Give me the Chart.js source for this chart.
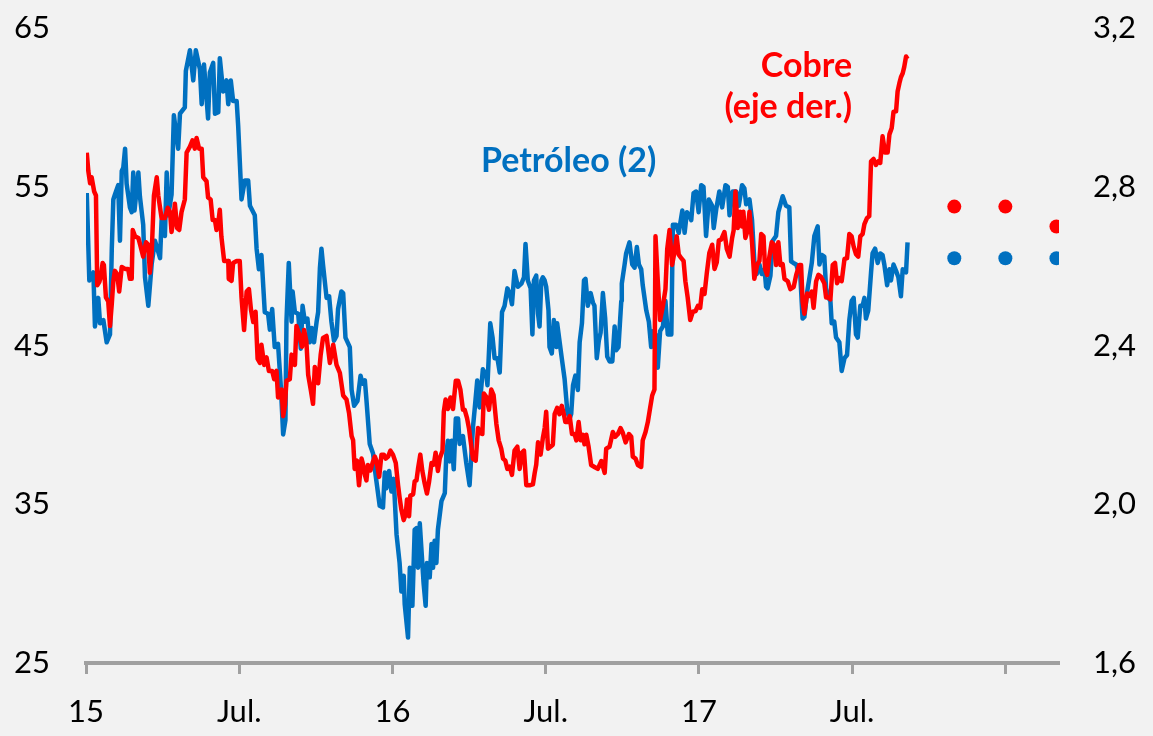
<!DOCTYPE html>
<html>
<head>
<meta charset="utf-8">
<script src="https://cdn.jsdelivr.net/npm/chart.js@4.4.0/dist/chart.umd.min.js"></script>
<style>
  body { margin: 0; background: #f2f2f2; }
  canvas { display: block; }
</style>
</head>
<body>
<canvas id="chart" width="1153" height="736"></canvas>
<script>
// months counted from January 2015
const oilMonths = [
  0.03,0.13,0.29,0.35,0.48,0.55,0.68,0.81,0.94,1.01,
  1.07,1.13,1.26,1.33,1.40,1.46,1.53,1.59,1.72,1.79,
  1.85,1.90,2.05,2.11,2.24,2.31,2.44,2.57,2.70,2.90,
  2.96,3.09,3.16,3.22,3.35,3.44,3.61,3.68,3.87,3.91,
  4.07,4.20,4.30,4.46,4.53,4.62,4.78,4.85,4.98,5.05,
  5.18,5.24,5.37,5.50,5.57,5.67,5.76,5.90,5.96,6.09,
  6.22,6.35,6.42,6.61,6.68,6.77,6.87,7.00,7.13,7.20,
  7.29,7.39,7.52,7.63,7.72,7.81,7.85,7.94,8.05,8.09,
  8.18,8.31,8.41,8.48,8.57,8.67,8.76,8.84,8.93,9.03,
  9.09,9.16,9.22,9.28,9.42,9.52,9.61,9.71,9.81,9.87,
  10.00,10.07,10.16,10.33,10.40,10.50,10.63,10.75,10.83,10.92,
  10.98,11.11,11.24,11.31,11.50,11.63,11.70,11.76,11.87,11.96,
  12.05,12.16,12.28,12.35,12.44,12.48,12.61,12.68,12.78,12.87,
  12.94,13.00,13.07,13.22,13.30,13.35,13.46,13.53,13.59,13.65,
  13.72,13.78,13.92,14.05,14.11,14.17,14.24,14.32,14.40,14.48,
  14.57,14.63,14.76,14.89,15.02,15.15,15.22,15.32,15.41,15.54,
  15.68,15.72,15.83,15.92,16.00,16.11,16.20,16.29,16.39,16.50,
  16.59,16.68,16.78,16.91,17.05,17.15,17.21,17.30,17.41,17.48,
  17.54,17.63,17.70,17.76,17.83,17.89,17.96,18.02,18.11,18.15,
  18.24,18.32,18.42,18.45,18.54,18.63,18.74,18.85,18.94,19.00,
  19.07,19.16,19.26,19.33,19.42,19.50,19.56,19.65,19.76,19.85,
  19.91,20.00,20.08,20.15,20.24,20.33,20.41,20.50,20.61,20.70,
  20.76,20.85,20.96,20.98,21.09,21.15,21.28,21.39,21.48,21.57,
  21.65,21.74,21.80,21.94,22.04,22.13,22.20,22.30,22.39,22.48,
  22.59,22.69,22.78,22.92,22.98,23.11,23.21,23.35,23.44,23.53,
  23.63,23.70,23.79,23.89,23.99,24.09,24.18,24.28,24.39,24.52,
  24.58,24.68,24.80,24.91,25.04,25.13,25.20,25.32,25.46,25.56,
  25.69,25.78,25.85,25.98,26.08,26.17,26.26,26.37,26.46,26.57,
  26.63,26.69,26.80,26.89,27.02,27.11,27.28,27.41,27.54,27.61,
  27.70,27.81,27.87,27.97,28.06,28.13,28.24,28.33,28.42,28.52,
  28.65,28.72,28.81,28.91,28.98,29.07,29.15,29.20,29.30,29.37,
  29.50,29.59,29.70,29.80,29.89,29.98,30.06,30.15,30.22,30.32,
  30.41,30.48,30.54,30.63,30.74,30.80,30.90,31.00,31.10,31.19,
  31.26,31.37,31.46,31.52,31.62,31.72,31.81,31.91,31.98,32.11,
  32.17
];
const oilValues = [
  54.6,49.1,49.6,46.2,48.0,46.4,46.6,45.2,45.7,51.1,
  54.2,54.5,55.1,51.6,56.0,56.2,57.4,55.2,53.7,53.4,
  55.9,53.5,55.9,54.4,52.6,49.3,47.5,50.1,51.6,50.5,
  52.9,51.9,55.9,53.2,54.5,59.5,57.4,59.6,60.0,62.3,
  63.6,61.7,63.6,62.4,60.2,62.7,59.3,62.2,62.8,59.6,
  59.7,63.1,61.0,61.7,60.2,61.7,60.4,60.4,58.8,54.2,
  55.4,55.4,53.8,53.2,51.1,49.8,50.7,47.1,47.0,46.0,
  47.3,44.9,45.1,42.4,39.4,40.3,46.5,50.2,46.5,48.4,
  47.1,47.0,44.8,47.5,46.5,46.7,45.2,46.1,45.2,46.5,
  47.1,49.9,51.1,50.1,48.0,48.1,46.5,45.3,45.6,47.3,
  48.4,48.3,45.5,44.9,42.2,41.2,41.5,43.1,42.6,42.8,
  41.6,38.8,38.2,37.2,34.9,34.8,37.0,36.0,37.1,35.8,
  36.6,33.1,31.3,29.5,30.5,28.7,26.6,31.0,28.6,33.4,
  33.5,31.0,33.8,30.0,28.6,31.3,30.4,32.5,31.0,32.7,
  31.3,33.4,35.2,35.7,38.2,39.0,37.7,39.0,37.2,40.4,
  40.4,38.8,39.3,37.6,36.2,39.8,41.0,42.8,41.1,43.5,
  43.1,42.5,46.4,45.5,44.2,44.2,43.3,47.1,47.5,48.6,
  48.3,47.6,49.7,48.7,48.9,49.3,51.4,49.1,48.6,45.7,
  49.1,49.4,47.0,46.2,49.1,49.3,49.1,48.7,47.2,44.9,
  44.5,46.6,44.9,46.4,45.3,44.2,42.9,40.8,40.4,40.7,
  42.5,43.1,42.2,45.2,46.4,49.1,49.2,47.5,48.3,47.7,
  47.5,44.2,45.3,45.8,48.3,46.7,44.3,44.0,44.0,46.2,
  44.7,44.9,47.8,48.9,50.1,50.8,51.5,50.1,49.9,51.2,
  50.1,49.8,48.8,47.2,46.5,44.9,45.9,45.7,43.6,45.9,
  46.2,47.8,45.7,45.7,52.6,52.6,52.1,53.5,52.1,53.4,
  53.2,52.9,54.6,54.7,53.4,55.1,55.0,51.9,54.2,53.8,
  52.4,53.6,54.7,53.7,55.1,55.0,53.2,54.7,54.7,53.8,
  55.1,54.9,53.9,54.2,52.9,50.3,49.5,50.1,49.5,49.8,
  48.7,48.6,49.4,51.6,51.9,53.4,54.4,53.8,53.7,50.3,
  50.2,50.1,49.8,49.4,46.7,46.8,48.4,49.3,50.2,51.9,
  52.5,50.1,50.7,50.6,48.6,48.0,47.8,46.4,46.5,45.5,
  45.2,43.4,44.2,44.4,46.6,47.8,48.0,45.7,45.5,47.5,
  47.5,48.0,46.7,47.2,49.6,50.8,51.1,50.2,50.8,50.7,
  50.1,48.8,49.8,49.1,50.1,49.7,49.3,48.1,49.8,49.6,
  51.5
];

const copperMonths = [
  0.03,0.09,0.16,0.22,0.32,0.39,0.44,0.52,0.58,0.65,
  0.70,0.78,0.87,0.94,1.01,1.07,1.13,1.22,1.30,1.40,
  1.53,1.65,1.72,1.79,1.83,1.92,2.05,2.14,2.24,2.35,
  2.44,2.50,2.57,2.66,2.77,2.83,2.96,3.09,3.20,3.29,
  3.35,3.42,3.48,3.57,3.65,3.74,3.87,3.94,4.07,4.17,
  4.26,4.33,4.43,4.53,4.59,4.72,4.78,4.88,4.96,5.05,
  5.11,5.18,5.24,5.30,5.41,5.57,5.59,5.70,5.76,5.90,
  6.02,6.09,6.19,6.29,6.38,6.46,6.55,6.64,6.72,6.81,
  6.87,6.98,7.07,7.16,7.29,7.37,7.46,7.52,7.66,7.72,
  7.79,7.85,7.98,8.05,8.18,8.24,8.37,8.46,8.54,8.63,
  8.70,8.80,8.89,8.96,9.09,9.19,9.28,9.42,9.55,9.68,
  9.81,9.94,10.07,10.20,10.30,10.40,10.46,10.52,10.61,10.69,
  10.79,10.85,10.92,10.98,11.04,11.14,11.22,11.31,11.37,11.48,
  11.57,11.66,11.74,11.83,11.92,12.02,12.13,12.22,12.28,12.35,
  12.44,12.52,12.57,12.65,12.70,12.81,12.87,12.94,13.00,13.09,
  13.17,13.26,13.35,13.43,13.53,13.62,13.69,13.78,13.85,13.96,
  14.01,14.08,14.17,14.27,14.37,14.48,14.57,14.66,14.76,14.83,
  14.92,15.00,15.09,15.15,15.26,15.35,15.41,15.52,15.58,15.68,
  15.78,15.87,15.96,16.07,16.16,16.26,16.33,16.42,16.50,16.59,
  16.68,16.78,16.89,16.98,17.07,17.15,17.24,17.37,17.50,17.57,
  17.63,17.70,17.80,17.89,17.96,18.02,18.09,18.19,18.28,18.35,
  18.45,18.54,18.63,18.71,18.77,18.86,18.94,19.03,19.13,19.20,
  19.29,19.37,19.46,19.52,19.59,19.68,19.78,19.91,20.04,20.18,
  20.31,20.37,20.50,20.63,20.72,20.83,20.93,21.02,21.13,21.26,
  21.35,21.41,21.52,21.61,21.74,21.80,21.91,22.00,22.09,22.17,
  22.26,22.30,22.39,22.48,22.59,22.69,22.76,22.85,22.95,23.04,
  23.13,23.21,23.31,23.40,23.47,23.56,23.66,23.76,23.87,23.96,
  24.05,24.13,24.22,24.31,24.41,24.52,24.61,24.70,24.78,24.87,
  25.00,25.09,25.20,25.30,25.36,25.43,25.52,25.61,25.69,25.74,
  25.82,25.91,25.98,26.08,26.17,26.28,26.37,26.44,26.53,26.59,
  26.67,26.76,26.85,26.93,27.02,27.11,27.19,27.28,27.35,27.48,
  27.58,27.71,27.81,27.93,28.00,28.06,28.13,28.24,28.33,28.42,
  28.49,28.59,28.68,28.78,28.91,28.98,29.07,29.15,29.24,29.33,
  29.41,29.50,29.59,29.70,29.80,29.89,29.98,30.06,30.15,30.24,
  30.32,30.41,30.48,30.58,30.67,30.74,30.84,30.93,31.02,31.10,
  31.19,31.29,31.39,31.46,31.55,31.62,31.72,31.78,31.85,31.91,
  31.98,32.04,32.11,32.17
];
const copperValues = [
  2.886,2.840,2.809,2.824,2.788,2.778,2.552,2.560,2.573,2.608,
  2.603,2.521,2.511,2.449,2.505,2.562,2.588,2.580,2.536,2.598,
  2.593,2.593,2.568,2.568,2.691,2.675,2.671,2.649,2.624,2.660,
  2.654,2.583,2.630,2.778,2.824,2.778,2.721,2.721,2.747,2.737,
  2.686,2.716,2.757,2.696,2.691,2.736,2.768,2.886,2.901,2.917,
  2.896,2.923,2.896,2.896,2.824,2.814,2.773,2.768,2.716,2.716,
  2.691,2.710,2.742,2.675,2.613,2.613,2.568,2.563,2.608,2.613,
  2.613,2.521,2.439,2.536,2.542,2.490,2.459,2.485,2.366,2.356,
  2.402,2.351,2.370,2.336,2.336,2.315,2.336,2.269,2.289,2.222,
  2.250,2.311,2.315,2.377,2.351,2.449,2.424,2.397,2.439,2.410,
  2.326,2.289,2.253,2.346,2.305,2.377,2.419,2.424,2.356,2.402,
  2.351,2.331,2.274,2.264,2.230,2.172,2.161,2.089,2.110,2.048,
  2.115,2.100,2.074,2.060,2.099,2.085,2.104,2.120,2.110,2.069,
  2.125,2.125,2.115,2.120,2.135,2.125,2.104,2.048,2.017,1.986,
  1.960,1.975,2.012,1.970,2.022,2.025,2.058,2.060,2.089,2.125,
  2.084,2.053,2.027,2.055,2.104,2.100,2.130,2.084,2.115,2.135,
  2.233,2.264,2.240,2.269,2.240,2.311,2.311,2.289,2.238,2.238,
  2.217,2.190,2.145,2.115,2.110,2.192,2.180,2.177,2.279,2.270,
  2.238,2.289,2.275,2.202,2.161,2.140,2.115,2.110,2.089,2.095,
  2.074,2.135,2.145,2.089,2.130,2.135,2.048,2.048,2.050,2.079,
  2.100,2.156,2.125,2.167,2.192,2.233,2.140,2.145,2.150,2.227,
  2.243,2.227,2.248,2.227,2.207,2.207,2.222,2.177,2.177,2.161,
  2.207,2.161,2.175,2.151,2.175,2.145,2.099,2.094,2.089,2.109,
  2.079,2.140,2.145,2.182,2.170,2.177,2.192,2.180,2.156,2.177,
  2.170,2.120,2.115,2.099,2.094,2.161,2.182,2.207,2.243,2.274,
  2.289,2.675,2.562,2.464,2.500,2.542,2.644,2.691,2.603,2.634,
  2.675,2.629,2.620,2.613,2.562,2.521,2.464,2.485,2.487,2.500,
  2.495,2.542,2.530,2.583,2.634,2.654,2.593,2.610,2.665,2.667,
  2.686,2.644,2.624,2.671,2.690,2.788,2.696,2.737,2.700,2.737,
  2.671,2.690,2.737,2.660,2.568,2.603,2.613,2.681,2.675,2.593,
  2.578,2.624,2.660,2.655,2.603,2.660,2.603,2.605,2.568,2.562,
  2.542,2.547,2.578,2.603,2.603,2.511,2.480,2.531,2.525,2.536,
  2.495,2.562,2.578,2.573,2.557,2.521,2.521,2.516,2.603,2.608,
  2.557,2.570,2.562,2.618,2.620,2.681,2.675,2.649,2.630,2.624,
  2.675,2.681,2.706,2.721,2.726,2.864,2.870,2.855,2.864,2.860,
  2.927,2.886,2.886,2.932,2.948,2.989,2.990,3.040,3.061,3.076,
  3.086,3.102,3.128,3.122
];

// projections
const forecastMonths = [34, 36, 38];
const oilForecast = [50.5, 50.5, 50.5];
const copperForecast = [2.75, 2.75, 2.70];

// axes
const xTickMonths = [0, 6, 12, 18, 24, 30, 36];
const xTickLabels = ['15', 'Jul.', '16', 'Jul.', '17', 'Jul.', ''];
const leftTicks = [25, 35, 45, 55, 65];
const rightTicks = [1.6, 2.0, 2.4, 2.8, 3.2];

const BLUE = '#0070c0';
const RED = '#ff0000';
const FONT = 'Lato, "Liberation Sans", sans-serif';

function toPoints(xs, ys) {
    return xs.map((x, i) => ({ x: x, y: ys[i] }));
}

// fixed axis box, no extra label padding above/below
function fitY(width) {
    return s => {
        s.width = width;
        s.paddingTop = 0;
        s.paddingBottom = 0;
    };
}

const background = {
    id: 'background',
    beforeDraw(chart) {
        const ctx = chart.ctx;
        ctx.save();
        ctx.fillStyle = '#f2f2f2';
        ctx.fillRect(0, 0, chart.width, chart.height);
        ctx.restore();
    }
};

// text labels placed in data coordinates
const labels = {
    id: 'labels',
    afterDatasetsDraw(chart) {
        const ctx = chart.ctx;
        const x = chart.scales.x;
        const yl = chart.scales.yLeft;
        const yr = chart.scales.yRight;
        ctx.save();
        ctx.font = 'bold 34px ' + FONT;
        ctx.textBaseline = 'alphabetic';

        ctx.fillStyle = BLUE;
        ctx.textAlign = 'center';
        ctx.fillText('Petróleo (2)', x.getPixelForValue(18.9), yl.getPixelForValue(55.93));

        ctx.fillStyle = RED;
        ctx.textAlign = 'right';
        ctx.fillText('Cobre', x.getPixelForValue(30.0), yr.getPixelForValue(3.076));
        ctx.fillText('(eje der.)', x.getPixelForValue(30.0), yr.getPixelForValue(2.973));
        ctx.restore();
    }
};

new Chart(document.getElementById('chart'), {
    type: 'line',
    data: {
        datasets: [
            {
                label: 'Petróleo (2)',
                data: toPoints(oilMonths, oilValues),
                yAxisID: 'yLeft',
                borderColor: BLUE,
                borderWidth: 4.5,
                pointRadius: 0,
                tension: 0,
                borderJoinStyle: 'round',
                order: 2
            },
            {
                label: 'Cobre',
                data: toPoints(copperMonths, copperValues),
                yAxisID: 'yRight',
                borderColor: RED,
                borderWidth: 4.5,
                pointRadius: 0,
                tension: 0,
                borderJoinStyle: 'round',
                order: 1
            },
            {
                label: 'Petróleo proy.',
                data: toPoints(forecastMonths, oilForecast),
                yAxisID: 'yLeft',
                showLine: false,
                pointRadius: 7,
                pointBorderWidth: 0,
                pointBackgroundColor: BLUE,
                borderColor: BLUE
            },
            {
                label: 'Cobre proy.',
                data: toPoints(forecastMonths, copperForecast),
                yAxisID: 'yRight',
                showLine: false,
                pointRadius: 7,
                pointBorderWidth: 0,
                pointBackgroundColor: RED,
                borderColor: RED
            }
        ]
    },
    options: {
        responsive: false,
        animation: false,
        devicePixelRatio: 1,
        layout: { padding: { top: 28, left: 0, right: 0, bottom: 0 } },
        plugins: {
            legend: { display: false },
            tooltip: { enabled: false }
        },
        scales: {
            x: {
                type: 'linear',
                min: 0,
                max: 38.1,
                afterBuildTicks: s => { s.ticks = xTickMonths.map(v => ({ value: v })); },
                afterFit: s => { s.height = 73; },
                ticks: {
                    autoSkip: false,
                    maxRotation: 0,
                    padding: 19,
                    color: '#000',
                    font: { family: FONT, size: 31 },
                    callback: (v, i) => xTickLabels[i]
                },
                grid: {
                    drawOnChartArea: false,
                    drawTicks: true,
                    tickLength: 11,
                    tickWidth: 3,
                    tickColor: '#a0a0a0'
                },
                border: { display: true, color: '#a0a0a0', width: 4 }
            },
            yLeft: {
                position: 'left',
                min: 25,
                max: 65,
                afterBuildTicks: s => { s.ticks = leftTicks.map(v => ({ value: v })); },
                afterFit: fitY(86),
                ticks: {
                    padding: 36,
                    color: '#000',
                    font: { family: FONT, size: 31 },
                    callback: v => String(v)
                },
                grid: { display: false, drawTicks: false },
                border: { display: false }
            },
            yRight: {
                position: 'right',
                min: 1.6,
                max: 3.2,
                afterBuildTicks: s => { s.ticks = rightTicks.map(v => ({ value: v })); },
                afterFit: fitY(94),
                ticks: {
                    padding: 34,
                    color: '#000',
                    font: { family: FONT, size: 31 },
                    callback: v => v.toFixed(1).replace('.', ',')
                },
                grid: { display: false, drawTicks: false },
                border: { display: false }
            }
        }
    },
    plugins: [background, labels]
});
</script>
</body>
</html>
